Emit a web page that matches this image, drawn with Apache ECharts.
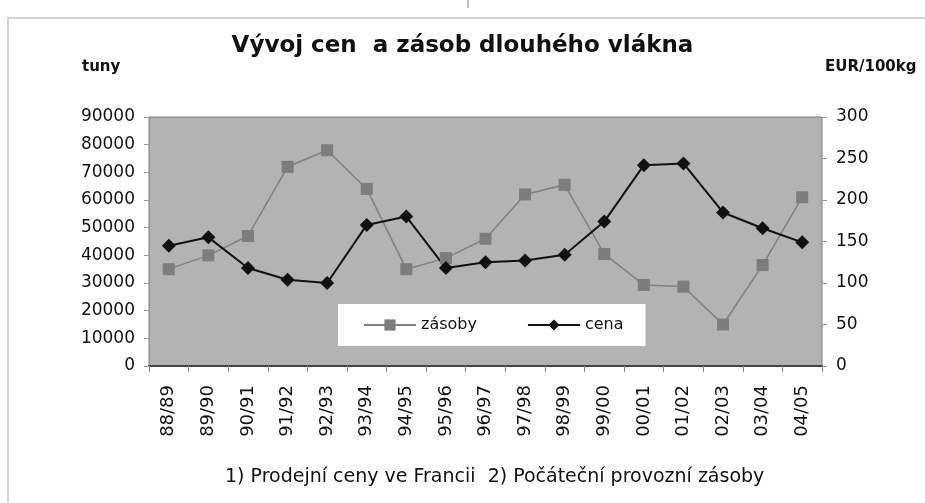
<!DOCTYPE html>
<html>
<head>
    <meta charset="utf-8">
    <script src="https://cdn.jsdelivr.net/npm/echarts@6/dist/echarts.min.js"></script>
</head>
<body style="margin:0;background-color:#ffffff">
    <div id="main" style="width:925px;height:503px;"></div>
    <script type="text/javascript">
        var roky = ['88/89','89/90','90/91','91/92','92/93','93/94','94/95','95/96','96/97','97/98','98/99','99/00','00/01','01/02','02/03','03/04','04/05'];
        // tuny (leva osa)
        var zasoby = [35000, 40000, 47000, 72000, 78000, 64000, 35000, 39000, 46000, 62000, 65500, 40500, 29300, 28700, 15000, 36500, 61000];
        // EUR/100kg (prava osa)
        var cena = [145, 155, 118, 104, 100, 170, 180, 118, 125, 127, 134, 174, 242, 244, 185, 166, 149];

        var font = 'DejaVu Sans';
        var myChart = echarts.init(document.getElementById('main'));

        var option = {
            backgroundColor: '#ffffff',
            animation: false,
            title: {
                text: 'Vývoj cen  a zásob dlouhého vlákna',
                left: 'center',
                top: 30,
                textStyle: {fontFamily: font, fontWeight: 'bold', fontSize: 23, color: '#111'}
            },
            graphic: [
                {type: 'rect', shape: {x: 8, y: 18, width: 940, height: 500}, style: {fill: 'none', stroke: '#d4d4d4', lineWidth: 2}, z: -10},
                {type: 'line', shape: {x1: 468, y1: 0, x2: 468, y2: 8}, style: {stroke: '#888', lineWidth: 1}},
                {type: 'text', left: 82, top: 60, style: {text: 'tuny', fontFamily: font, fontWeight: 'bold', fontSize: 15, fill: '#111'}},
                {type: 'text', left: 825, top: 60, style: {text: 'EUR/100kg', fontFamily: font, fontWeight: 'bold', fontSize: 15, fill: '#111'}},
                {type: 'text', left: 225, top: 468, style: {text: '1) Prodejní ceny ve Francii  2) Počáteční provozní zásoby', fontFamily: font, fontSize: 19, fill: '#111'}}
            ],
            legend: {
                left: 338,
                top: 304,
                backgroundColor: '#ffffff',
                padding: [13, 22, 13, 25],
                itemWidth: 52,
                itemHeight: 14,
                itemGap: 50,
                textStyle: {fontFamily: font, fontSize: 16, color: '#111'},
                data: ['zásoby', 'cena']
            },
            grid: {
                left: 149,
                right: 103,
                top: 117,
                bottom: 137,
                show: true,
                backgroundColor: '#b3b3b3',
                borderColor: '#7a7a7a',
                borderWidth: 1
            },
            xAxis: {
                type: 'category',
                data: roky,
                boundaryGap: true,
                axisLine: {lineStyle: {color: '#444', width: 2}},
                axisTick: {show: true, length: 6, lineStyle: {color: '#888'}},
                axisLabel: {rotate: 90, margin: 19, fontFamily: font, fontSize: 18, color: '#111'}
            },
            yAxis: [
                {
                    type: 'value',
                    min: 0,
                    max: 90000,
                    interval: 10000,
                    splitLine: {show: false},
                    axisLine: {show: false},
                    axisTick: {show: true, length: 5, lineStyle: {color: '#999'}},
                    axisLabel: {
                        margin: 14, fontFamily: font, fontSize: 17, color: '#111',
                        formatter: function (v) { return String(v); }
                    }
                },
                {
                    type: 'value',
                    min: 0,
                    max: 300,
                    interval: 50,
                    splitLine: {show: false},
                    axisLine: {show: false},
                    axisTick: {show: true, length: 5, lineStyle: {color: '#999'}},
                    axisLabel: {margin: 14, fontFamily: font, fontSize: 17, color: '#111'}
                }
            ],
            series: [
                {
                    name: 'zásoby',
                    type: 'line',
                    yAxisIndex: 0,
                    data: zasoby,
                    symbol: 'rect',
                    symbolSize: 12,
                    lineStyle: {color: '#808080', width: 1.5},
                    itemStyle: {color: '#7d7d7d'}
                },
                {
                    name: 'cena',
                    type: 'line',
                    yAxisIndex: 1,
                    data: cena,
                    symbol: 'diamond',
                    symbolSize: 14,
                    lineStyle: {color: '#111', width: 2},
                    itemStyle: {color: '#111'}
                }
            ]
        };
        myChart.setOption(option);
    </script>
</body>
</html>
